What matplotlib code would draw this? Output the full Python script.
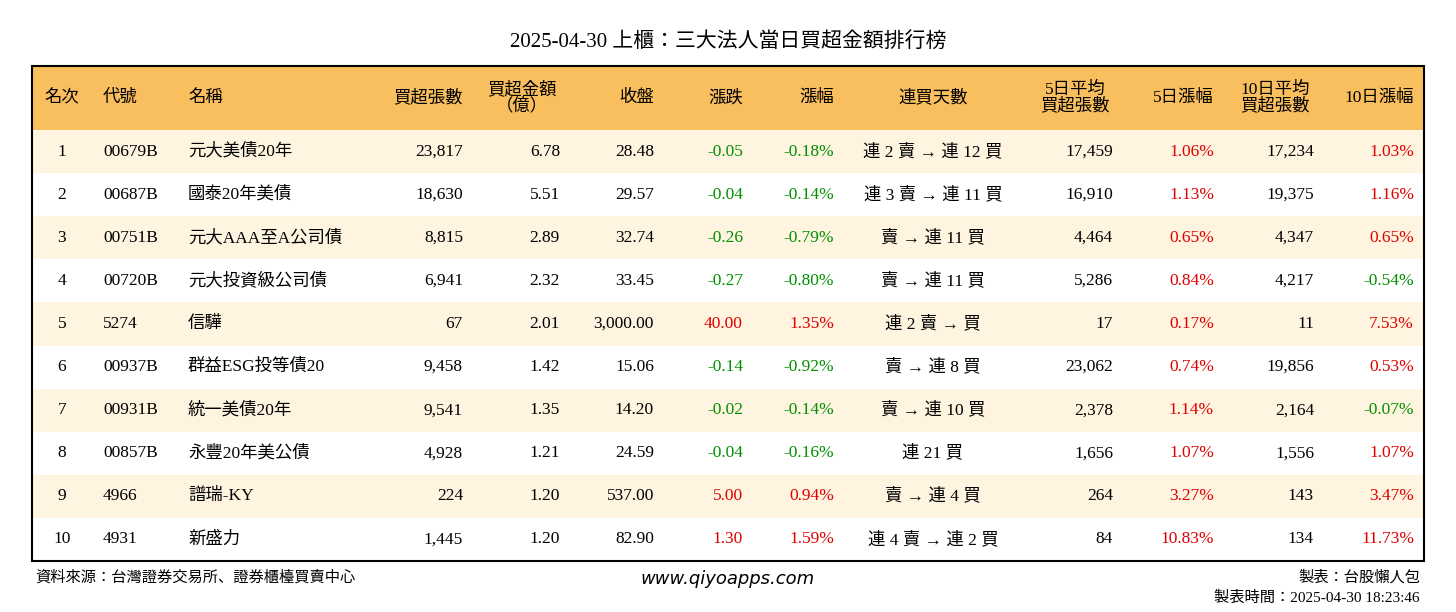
import matplotlib.pyplot as plt
from matplotlib.patches import Rectangle

plt.rcParams["font.family"] = ["Liberation Serif", "Noto Sans CJK JP", "Noto Sans CJK TC",
                               "Noto Sans CJK SC", "DejaVu Sans"]

W, H = 1456, 612
title = "2025-04-30 上櫃：三大法人當日買超金額排行榜"
headers = ["名次", "代號", "名稱", "買超張數", "買超金額\n（億）", "收盤", "漲跌", "漲幅",
           "連買天數", "5日平均\n買超張數", "5日漲幅", "10日平均\n買超張數", "10日漲幅"]

ranks = ["1", "2", "3", "4", "5", "6", "7", "8", "9", "10"]
codes = ["00679B", "00687B", "00751B", "00720B", "5274", "00937B", "00931B", "00857B", "4966", "4931"]
names = ["元大美債20年", "國泰20年美債", "元大AAA至A公司債", "元大投資級公司債", "信驊",
         "群益ESG投等債20", "統一美債20年", "永豐20年美公債", "譜瑞-KY", "新盛力"]
buy_lots = ["23,817", "18,630", "8,815", "6,941", "67", "9,458", "9,541", "4,928", "224", "1,445"]
buy_amt = ["6.78", "5.51", "2.89", "2.32", "2.01", "1.42", "1.35", "1.21", "1.20", "1.20"]
close = ["28.48", "29.57", "32.74", "33.45", "3,000.00", "15.06", "14.20", "24.59", "537.00", "82.90"]
change = ["-0.05", "-0.04", "-0.26", "-0.27", "40.00", "-0.14", "-0.02", "-0.04", "5.00", "1.30"]
pct = ["-0.18%", "-0.14%", "-0.79%", "-0.80%", "1.35%", "-0.92%", "-0.14%", "-0.16%", "0.94%", "1.59%"]
streak = ["連 2 賣 → 連 12 買", "連 3 賣 → 連 11 買", "賣 → 連 11 買", "賣 → 連 11 買", "連 2 賣 → 買",
          "賣 → 連 8 買", "賣 → 連 10 買", "連 21 買", "賣 → 連 4 買", "連 4 賣 → 連 2 買"]
avg5 = ["17,459", "16,910", "4,464", "5,286", "17", "23,062", "2,378", "1,656", "264", "84"]
pct5 = ["1.06%", "1.13%", "0.65%", "0.84%", "0.17%", "0.74%", "1.14%", "1.07%", "3.27%", "10.83%"]
avg10 = ["17,234", "19,375", "4,347", "4,217", "11", "19,856", "2,164", "1,556", "143", "134"]
pct10 = ["1.03%", "1.16%", "0.65%", "-0.54%", "7.53%", "0.53%", "-0.07%", "1.07%", "3.47%", "11.73%"]

columns = [ranks, codes, names, buy_lots, buy_amt, close, change, pct, streak, avg5, pct5, avg10, pct10]
# (x, ha) for data cells, and header x/ha
data_pos = [(62, "center"), (103, "left"), (188, "left"), (463, "right"), (560, "right"),
            (654, "right"), (743, "right"), (834, "right"), (933, "center"), (1113, "right"),
            (1214, "right"), (1314, "right"), (1414, "right")]
head_pos = [(62, "center"), (103, "left"), (188, "left"), (463, "right"), (522, "center"),
            (654, "right"), (743, "right"), (834, "right"), (933, "center"), (1075, "center"),
            (1214, "right"), (1275, "center"), (1414, "right")]
colored = {6, 7, 10, 12}
GREEN, RED = "#009000", "#e00000"

fig = plt.figure(figsize=(W / 100, H / 100), dpi=100)
ax = fig.add_axes([0, 0, 1, 1])
ax.set_xlim(0, W)
ax.set_ylim(H, 0)
ax.axis("off")

ax.text(W / 2, 42, title, ha="center", va="center", fontsize=15)

left, right, top, head_h, row_h = 32, 1424, 66, 64, 43.1
ax.add_patch(Rectangle((left, top), right - left, head_h, color="#F9BE5E", lw=0))
for i in range(len(ranks)):
    y0 = top + head_h + i * row_h
    if i % 2 == 0:
        ax.add_patch(Rectangle((left, y0), right - left, row_h, color="#FEF4DF", lw=0))
    yc = y0 + row_h / 2
    for j, col in enumerate(columns):
        txt = col[i]
        color = "black"
        if j in colored:
            color = RED if not txt.startswith("-") else GREEN
        x, ha = data_pos[j]
        ax.text(x, yc, txt, ha=ha, va="center", fontsize=12.5, color=color)

for j, h in enumerate(headers):
    x, ha = head_pos[j]
    ax.text(x, top + head_h / 2, h, ha=ha, va="center", fontsize=12.5,
            linespacing=1.0, multialignment="center")

bottom = top + head_h + len(ranks) * row_h
ax.add_patch(Rectangle((left, top), right - left, bottom - top, fill=False, ec="black", lw=1.5))

ax.text(35, 577, "資料來源：台灣證券交易所、證券櫃檯買賣中心", ha="left", va="center", fontsize=11)
ax.text(728, 579, "www.qiyoapps.com", ha="center", va="center", fontsize=13,
        style="italic", family="DejaVu Sans")
ax.text(1420, 577, "製表：台股懶人包", ha="right", va="center", fontsize=11)
ax.text(1420, 598, "製表時間：2025-04-30 18:23:46", ha="right", va="center", fontsize=11)

fig.savefig("out.png", dpi=100)
